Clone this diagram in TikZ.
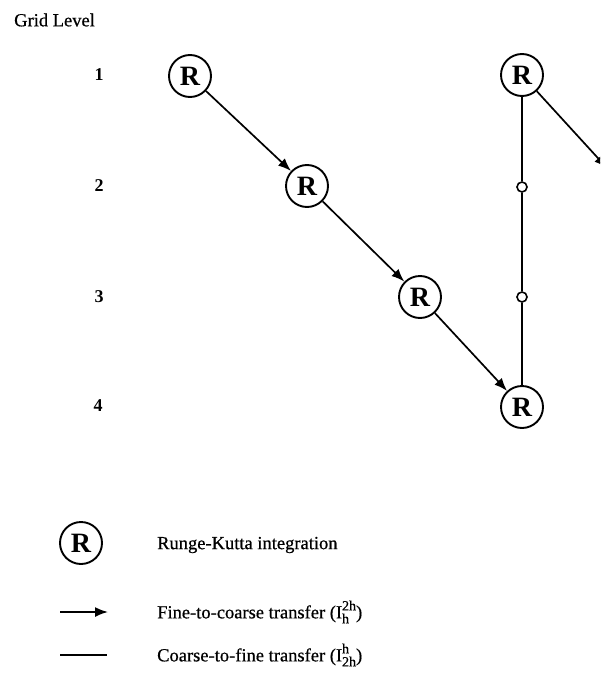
\documentclass[tikz,border=0pt]{standalone}
\usepackage{fontspec}
\setmainfont{Liberation Serif}
\newfontfamily\scanfont{Liberation Serif}[FakeBold=0.6]
\usetikzlibrary{arrows.meta}
\tikzset{
  rk/.style={circle, draw, line width=1.9pt, minimum size=42pt, inner sep=0pt,
             font=\fontsize{28}{30}\selectfont\bfseries},
  node2/.style={circle, draw, line width=1.6pt, fill=white, minimum size=10pt, inner sep=0pt},
  lbl/.style={font=\scanfont\fontsize{18.5}{22}\selectfont, anchor=west, inner sep=0pt},
  lvl/.style={font=\fontsize{18}{20}\selectfont\bfseries, inner sep=0pt},
  down/.style={line width=1.7pt, -{Latex[length=13pt,width=10pt]}},
  up/.style={line width=1.6pt},
}
% transfer operator I with a lower and an upper index
\newcommand{\xfer}[2]{(I\rlap{\raisebox{8pt}{\fontsize{14}{14}\selectfont #2}}%
  \raisebox{-5pt}{\fontsize{14}{14}\selectfont #1}%
  \settowidth{\dimen0}{\fontsize{14}{14}\selectfont #1}%
  \settowidth{\dimen2}{\fontsize{14}{14}\selectfont #2}%
  \ifdim\dimen2>\dimen0 \hspace{\dimexpr\dimen2-\dimen0\relax}\fi)}
\begin{document}
\begin{tikzpicture}[x=1pt,y=-1pt]
\useasboundingbox (0,0) rectangle (600,677);
\clip (0,0) rectangle (600,677);
% heading and level numbers
\node[lbl] (head) at (14,20) {Grid Level};
\node[lvl] (l1) at (99,75) {1};
\node[lvl] (l2) at (99,186) {2};
\node[lvl] (l3) at (99,297) {3};
\node[lvl] (l4) at (98,406) {4};
% one cycle over four grid levels
\node[rk] (a1) at (190,76) {R};
\node[rk] (a2) at (307,186) {R};
\node[rk] (a3) at (420,297) {R};
\node[rk] (a4) at (522,407) {R};
\node[rk] (b1) at (522,75) {R};
\node[node2] (c2) at (522,187) {};
\node[node2] (c3) at (522,297) {};
\coordinate (off) at (607,168);
\draw[down] (a1) -- (a2);
\draw[down] (a2) -- (a3);
\draw[down] (a3) -- (a4);
\draw[up] (a4) -- (c3);
\draw[up] (c3) -- (c2);
\draw[up] (c2) -- (b1);
\draw[down] (b1) -- (off);
% legend
\node[rk] (lr) at (81,543) {R};
\node[lbl] (t1) at (157,545) {Runge-Kutta integration};
\coordinate (ar0) at (60,612);
\coordinate (ar1) at (108,612);
\draw[down] (ar0) -- (ar1);
\node[lbl] (t2) at (157,612) {Fine-to-coarse transfer \xfer{h}{2h}};
\coordinate (ln0) at (60,655);
\coordinate (ln1) at (107,655);
\draw[up] (ln0) -- (ln1);
\node[lbl] (t3) at (157,655) {Coarse-to-fine transfer \xfer{2h}{h}};
\end{tikzpicture}
\end{document}
